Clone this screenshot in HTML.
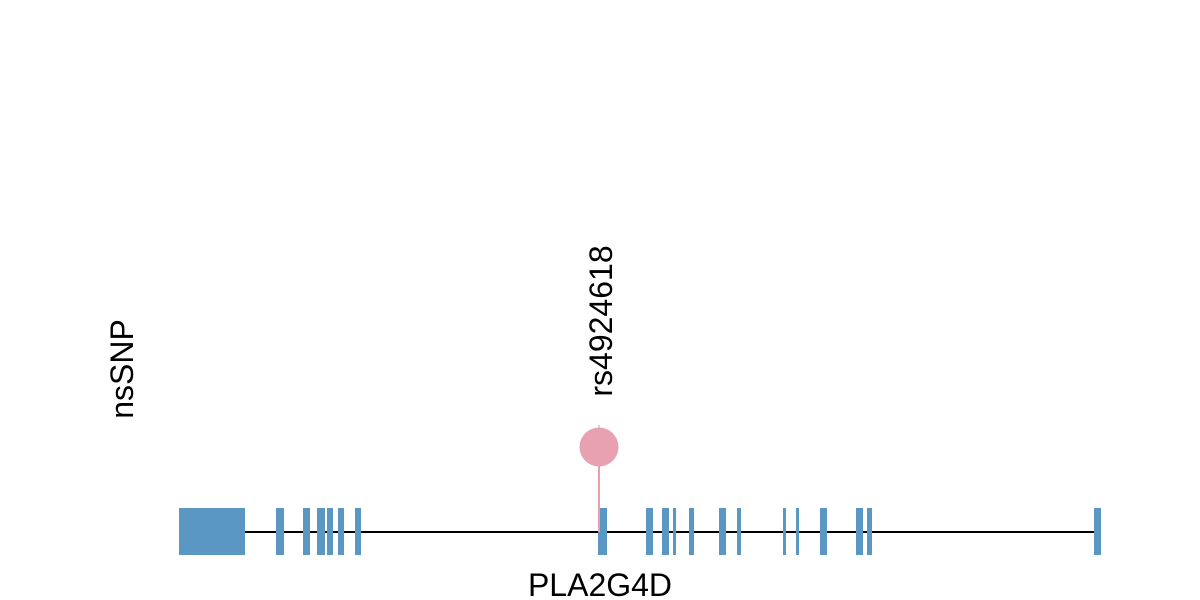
<!DOCTYPE html>
<html><head><meta charset="utf-8"><style>html,body{margin:0;padding:0;background:#fff;}svg{display:block}</style></head>
<body>
<svg width="1200" height="600" viewBox="0 0 1200 600" xmlns="http://www.w3.org/2000/svg" font-family="Liberation Sans, Arial, sans-serif">
<rect width="1200" height="600" fill="#fff"/>
<line x1="179" y1="532" x2="1101" y2="532" stroke="#000" stroke-width="2"/>
<g fill="#5b97c3">
<rect x="179" y="508" width="66" height="47"/>
<rect x="276" y="508" width="8" height="47"/>
<rect x="303" y="508" width="7" height="47"/>
<rect x="317" y="508" width="8" height="47"/>
<rect x="327" y="508" width="6" height="47"/>
<rect x="338" y="508" width="6" height="47"/>
<rect x="355" y="508" width="6" height="47"/>
<rect x="598" y="508" width="9" height="47"/>
<rect x="646" y="508" width="7" height="47"/>
<rect x="662" y="508" width="7" height="47"/>
<rect x="673" y="508" width="3" height="47"/>
<rect x="689" y="508" width="5" height="47"/>
<rect x="719" y="508" width="7" height="47"/>
<rect x="737" y="508" width="4" height="47"/>
<rect x="783" y="508" width="3" height="47"/>
<rect x="796" y="508" width="3" height="47"/>
<rect x="820" y="508" width="7" height="47"/>
<rect x="856" y="508" width="7" height="47"/>
<rect x="867" y="508" width="5" height="47"/>
<rect x="1094" y="508" width="7" height="47"/>
</g>
<line x1="599" y1="425" x2="599" y2="430" stroke="#aaa" stroke-width="1"/>
<line x1="599" y1="447" x2="599" y2="532" stroke="#e8a0b0" stroke-width="2"/>
<circle cx="599" cy="447" r="19.5" fill="#e8a1b0"/>
<text x="0" y="0" font-size="32" text-anchor="middle" transform="translate(612,321) rotate(-90)">rs4924618</text>
<text x="0" y="0" font-size="32" text-anchor="middle" transform="translate(133,369) rotate(-90)">nsSNP</text>
<text x="600" y="596" font-size="32" text-anchor="middle">PLA2G4D</text>
</svg>
</body></html>
